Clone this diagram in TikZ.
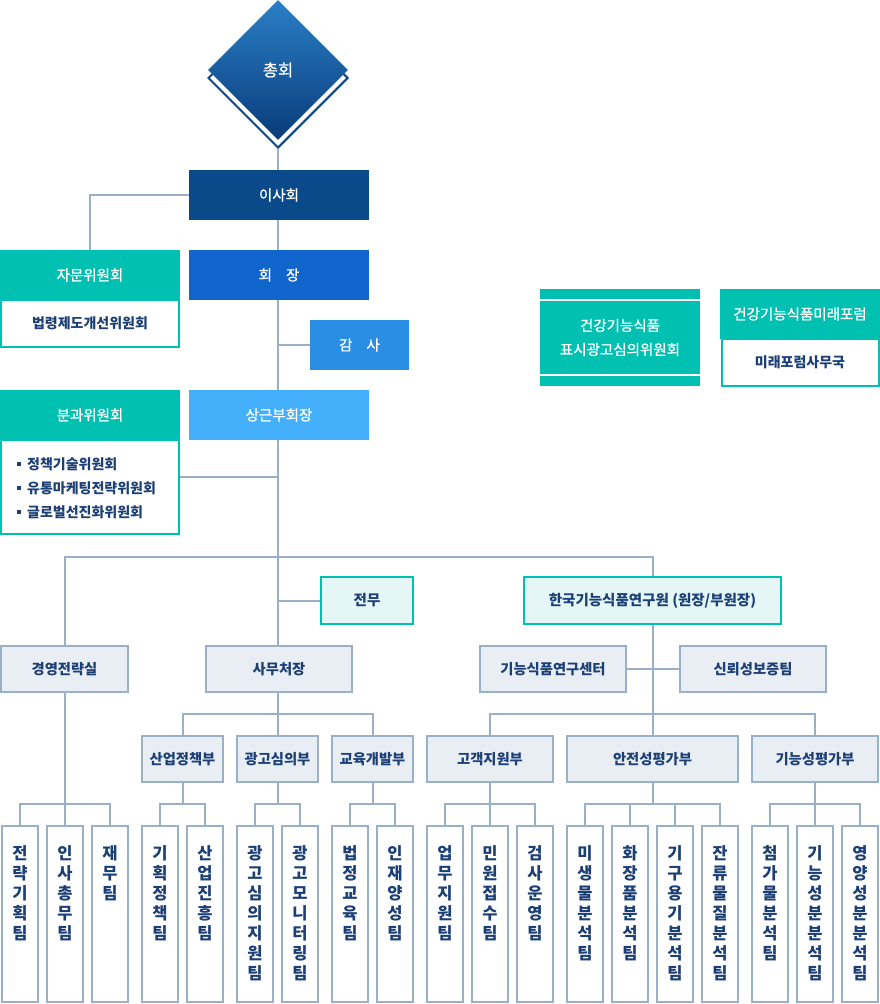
\documentclass[tikz,border=0pt]{standalone}
\usepackage{fontspec}
\setmainfont{Noto Sans CJK KR}
\newfontfamily\medfont[FakeBold=0.9]{Noto Sans CJK KR}
\usetikzlibrary{shapes.geometric}
\definecolor{lineC}{HTML}{9AB0C6}
\definecolor{tealC}{HTML}{00C1B1}
\definecolor{navyC}{HTML}{1C3F75}
\definecolor{greyF}{HTML}{E8EEF4}
\definecolor{mintF}{HTML}{E4F7F6}
\definecolor{isaC}{HTML}{0B4A8A}
\definecolor{hoeC}{HTML}{1066CC}
\definecolor{gamC}{HTML}{2A8EE4}
\definecolor{viceC}{HTML}{44AFFB}
\definecolor{dTop}{HTML}{2A7FC6}
\definecolor{dBot}{HTML}{0A3B7A}
\definecolor{dLine}{HTML}{0E4585}
\newcommand\fz[2]{\fontsize{#1pt}{#2pt}\selectfont}
\begin{document}
\begin{tikzpicture}[x=1pt,y=-1pt,
  conn/.style={draw=lineC, line width=2pt},
  solidbox/.style={inner sep=0, minimum width=180pt, minimum height=50pt, text=white, font=\fz{14.5}{17}\medfont},
  tealhead/.style={solidbox, fill=tealC},
  tealbody/.style={draw=tealC, line width=2pt, fill=white, inner sep=0, minimum width=178pt, text=navyC, font=\fz{14}{17}\bfseries},
  greybox/.style={draw=lineC, line width=2pt, fill=greyF, inner sep=0, minimum height=46pt, text=navyC, font=\fz{14.3}{17}\bfseries},
  mintbox/.style={draw=tealC, line width=2pt, fill=mintF, inner sep=0, minimum height=47pt, text=navyC, font=\fz{14.5}{17}\bfseries},
  teambox/.style={draw=lineC, line width=2pt, fill=white, inner sep=0, minimum width=36pt, minimum height=176pt},
  vtext/.style={anchor=north, inner sep=0, align=center, text=navyC, font=\fz{16.5}{20}\bfseries},
]
\useasboundingbox (0,0) rectangle (880,1004);
\newcommand\team[3]{\node[teambox] (#1) at (#2,914) {};
  \node[vtext] (#1t) at ([yshift=-20pt]#1.north) {#3};}

% diamond
\node[diamond, aspect=1, minimum width=140pt, minimum height=140pt, inner sep=0, draw=dLine, line width=2pt, fill=white] (dshadow) at (278,78) {};
\node[diamond, aspect=1, minimum width=140pt, minimum height=140pt, inner sep=0, top color=dTop, bottom color=dBot, text=white, font=\fz{16.5}{19}\medfont] (chong) at (278,70) {총회};

% top column
\node[solidbox, fill=isaC] (isa) at (279,195) {이사회};
\node[solidbox, fill=hoeC] (hoe) at (279,275) {회\hspace{14pt}장};
\node[solidbox, fill=gamC, minimum width=99pt] (gamsa) at (359.5,345) {감\hspace{14pt}사};
\node[solidbox, fill=viceC] (vice) at (279,415) {상근부회장};

% committees left
\node[tealhead] (jamun) at (90,275) {자문위원회};
\node[tealbody, minimum height=47pt] (jamunB) at (90,323.5) {법령제도개선위원회};
\node[tealhead] (bungwa) at (90,415) {분과위원회};
\node[tealbody, minimum height=94pt] (bungwaB) at (90,487) {};
\node[anchor=west, inner sep=0, align=left, text=navyC, font=\fz{14}{24}\bfseries] (bungwaT) at (17,488)
 {\rule[3pt]{4pt}{4pt}\hspace{6pt}정책기술위원회\\
  \rule[3pt]{4pt}{4pt}\hspace{6pt}유통마케팅전략위원회\\
  \rule[3pt]{4pt}{4pt}\hspace{6pt}글로벌선진화위원회};

% right committees
\node[fill=tealC, inner sep=0, minimum width=160pt, minimum height=10pt] (pyoT) at (620,294) {};
\node[fill=tealC, inner sep=0, minimum width=160pt, minimum height=73pt, text=white, align=center, font=\fz{14.5}{24}\medfont] (pyo) at (620,337.5) {건강기능식품\\표시광고심의위원회};
\node[fill=tealC, inner sep=0, minimum width=160pt, minimum height=10pt] (pyoB) at (620,381) {};
\node[tealhead, minimum width=160pt] (mirae) at (800,314) {건강기능식품미래포럼};
\node[tealbody, minimum width=157pt, minimum height=47pt] (miraeB) at (800,362.5) {미래포럼사무국};

% middle
\node[mintbox, minimum width=92pt] (jeonmu) at (367,600.5) {전무};
\node[mintbox, minimum width=257pt] (kfri) at (652.5,600.5) {한국기능식품연구원 (원장/부원장)};
\node[greybox, minimum width=127pt] (gyeong) at (64.5,669) {경영전략실};
\node[greybox, minimum width=146pt] (samu) at (279,669) {사무처장};
\node[greybox, minimum width=146pt] (center) at (553,669) {기능식품연구센터};
\node[greybox, minimum width=146pt] (trust) at (753,669) {신뢰성보증팀};

% departments
\node[greybox, minimum width=81pt] (sanup) at (182.5,759) {산업정책부};
\node[greybox, minimum width=81pt] (gwang) at (277.5,759) {광고심의부};
\node[greybox, minimum width=81pt] (gyoyuk) at (372.5,759) {교육개발부};
\node[greybox, minimum width=126pt] (gogaek) at (490,759) {고객지원부};
\node[greybox, minimum width=171pt] (anjeon) at (652.5,759) {안전성평가부};
\node[greybox, minimum width=126pt] (gineung) at (815,759) {기능성평가부};

% teams
\team{t1}{20}{전\\략\\기\\획\\팀}
\team{t2}{65}{인\\사\\총\\무\\팀}
\team{t3}{110}{재\\무\\팀}
\team{t4}{160}{기\\획\\정\\책\\팀}
\team{t5}{205}{산\\업\\진\\흥\\팀}
\team{t6}{255}{광\\고\\심\\의\\지\\원\\팀}
\team{t7}{300}{광\\고\\모\\니\\터\\링\\팀}
\team{t8}{350}{법\\정\\교\\육\\팀}
\team{t9}{395}{인\\재\\양\\성\\팀}
\team{t10}{445}{업\\무\\지\\원\\팀}
\team{t11}{490}{민\\원\\접\\수\\팀}
\team{t12}{535}{검\\사\\운\\영\\팀}
\team{t13}{585}{미\\생\\물\\분\\석\\팀}
\team{t14}{630}{화\\장\\품\\분\\석\\팀}
\team{t15}{675}{기\\구\\용\\기\\분\\석\\팀}
\team{t16}{720}{잔\\류\\물\\질\\분\\석\\팀}
\team{t17}{770}{첨\\가\\물\\분\\석\\팀}
\team{t18}{815}{기\\능\\성\\분\\분\\석\\팀}
\team{t19}{860}{영\\양\\성\\분\\분\\석\\팀}

% helper coordinates
\coordinate (spine) at (278,0);
\coordinate (bus1) at (0,557);
\coordinate (bus2) at (0,714);
\coordinate (bus3) at (0,804);
\coordinate (j1) at ([yshift=10pt]bungwaB.east);

% connectors
\draw[conn] (dshadow.south) -- (dshadow.south |- isa.north);
\draw[conn] (isa.west) -| (jamun.north);
\draw[conn] (spine |- isa.south) -- (spine |- hoe.north);
\draw[conn] (spine |- hoe.south) -- (spine |- vice.north);
\draw[conn] (gamsa.west) -- (gamsa.west -| spine);
\draw[conn] (spine |- vice.south) -- (spine |- samu.north);
\draw[conn] (j1) -- (j1 -| spine);
\draw[conn] (gyeong.north) -- (gyeong.north |- bus1) -- (kfri.north |- bus1) -- (kfri.north);
\draw[conn] (jeonmu.west) -- (jeonmu.west -| spine);
\draw[conn] (kfri.south) -- (kfri.south |- anjeon.north);
\draw[conn] (center.east) -- (trust.west);
\draw[conn] (spine |- samu.south) -- (spine |- gwang.north);
\draw[conn] (sanup.north) -- (sanup.north |- bus2) -- (gyoyuk.north |- bus2) -- (gyoyuk.north);
\draw[conn] (gogaek.north) -- (gogaek.north |- bus2) -- (gineung.north |- bus2) -- (gineung.north);
% team buses
\draw[conn] (gyeong.south) -- (gyeong.south |- t2.north);
\draw[conn] (t1.north) -- (t1.north |- bus3) -- (t3.north |- bus3) -- (t3.north);
\draw[conn] (sanup.south) -- (sanup.south |- bus3);
\draw[conn] (t4.north) -- (t4.north |- bus3) -- (t5.north |- bus3) -- (t5.north);
\draw[conn] (gwang.south) -- (gwang.south |- bus3);
\draw[conn] (t6.north) -- (t6.north |- bus3) -- (t7.north |- bus3) -- (t7.north);
\draw[conn] (gyoyuk.south) -- (gyoyuk.south |- bus3);
\draw[conn] (t8.north) -- (t8.north |- bus3) -- (t9.north |- bus3) -- (t9.north);
\draw[conn] (gogaek.south) -- (t11.north);
\draw[conn] (t10.north) -- (t10.north |- bus3) -- (t12.north |- bus3) -- (t12.north);
\draw[conn] (anjeon.south) -- (anjeon.south |- bus3);
\draw[conn] (t13.north) -- (t13.north |- bus3) -- (t16.north |- bus3) -- (t16.north);
\draw[conn] (t14.north) -- (t14.north |- bus3);
\draw[conn] (t15.north) -- (t15.north |- bus3);
\draw[conn] (gineung.south) -- (t18.north);
\draw[conn] (t17.north) -- (t17.north |- bus3) -- (t19.north |- bus3) -- (t19.north);
\end{tikzpicture}
\end{document}
